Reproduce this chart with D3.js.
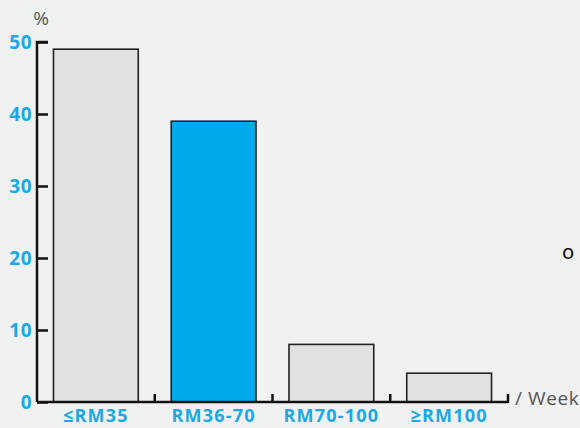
<!DOCTYPE html>
<html>
<head>
<meta charset="utf-8">
<script src="https://cdn.jsdelivr.net/npm/d3@7"></script>
<style>
  body { margin: 0; background: #f0f1f1; }
  svg { display: block; }
</style>
</head>
<body>
<script>
// data
var categories = ["≤RM35", "RM36-70", "RM70-100", "≥RM100"];
var values = [49, 39, 8, 4];
var highlight = "RM36-70";
var yTicks = [0, 10, 20, 30, 40, 50];

var svgWidth = 580, svgHeight = 428;
var margin = {top: 42, right: 72, bottom: 26, left: 37};
var width = svgWidth - margin.left - margin.right;
var height = svgHeight - margin.top - margin.bottom;

var svg = d3.select("body").append("svg")
  .attr("width", svgWidth)
  .attr("height", svgHeight)
  .style("font-family", "'Open Sans', sans-serif");

svg.append("rect").attr("width", svgWidth).attr("height", svgHeight).attr("fill", "#f0f1f1");

var chartGroup = svg.append("g")
  .attr("transform", `translate(${margin.left}, ${margin.top})`);

var x = d3.scaleBand().domain(categories).range([0, width]).paddingInner(0.28).paddingOuter(0.14);
var y = d3.scaleLinear().domain([0, 50]).range([height, 0]);

// bars
chartGroup.selectAll("rect.bar")
  .data(categories)
  .enter()
  .append("rect")
  .attr("class", "bar")
  .attr("x", function(d) { return x(d); })
  .attr("y", function(d, i) { return y(values[i]); })
  .attr("width", x.bandwidth())
  .attr("height", function(d, i) { return height - y(values[i]); })
  .attr("fill", function(d) { return d === highlight ? "#00a9ea" : "#e0e1e3"; })
  .attr("stroke", "#222")
  .attr("stroke-width", 1.6);

// y axis
var leftAxis = d3.axisRight(y).tickValues(yTicks).tickSize(11).tickFormat("");
var yAxis = chartGroup.append("g").call(leftAxis);
yAxis.select(".domain").attr("stroke", "#111").attr("stroke-width", 2.5).attr("d", `M0,${height}V0H11`);
yAxis.selectAll(".tick line").attr("stroke", "#111").attr("stroke-width", 2.5);

chartGroup.selectAll("text.ylab")
  .data(yTicks)
  .enter()
  .append("text")
  .attr("class", "ylab")
  .attr("x", -5)
  .attr("y", function(d) { return y(d); })
  .attr("dy", "0.36em")
  .attr("text-anchor", "end")
  .attr("fill", "#1ba8e8")
  .style("font-size", "19px")
  .style("font-weight", "bold")
  .style("letter-spacing", "0.5px")
  .text(function(d) { return d; });

// x axis with ticks at band boundaries
var step = x.step();
var bounds = categories.map(function(d) { return x(d) - x.paddingInner() * step / 2 + step; });
var xAxis = chartGroup.append("g").attr("transform", `translate(0, ${height})`);
xAxis.append("line")
  .attr("x1", 0).attr("x2", bounds[bounds.length - 1])
  .attr("stroke", "#111").attr("stroke-width", 2.5);
xAxis.selectAll("line.tk")
  .data(bounds)
  .enter()
  .append("line")
  .attr("class", "tk")
  .attr("x1", function(d) { return d; })
  .attr("x2", function(d) { return d; })
  .attr("y1", 1)
  .attr("y2", -8)
  .attr("stroke", "#111").attr("stroke-width", 2.5);

xAxis.selectAll("text.xlab")
  .data(categories)
  .enter()
  .append("text")
  .attr("class", "xlab")
  .attr("x", function(d) { return x(d) + x.bandwidth() / 2; })
  .attr("y", 20)
  .attr("text-anchor", "middle")
  .attr("fill", "#1ba8e8")
  .style("font-size", "18px")
  .style("font-weight", "bold")
  .style("letter-spacing", "1.2px")
  .text(function(d) { return d; });

// unit labels
svg.append("text")
  .attr("x", 41).attr("y", 25)
  .attr("text-anchor", "middle")
  .attr("fill", "#555")
  .style("font-size", "19px")
  .text("%");

svg.append("text")
  .attr("x", 515).attr("y", 405)
  .attr("fill", "#555")
  .style("font-size", "19px")
  .style("letter-spacing", "0.6px")
  .text("/ Week");

svg.append("text")
  .attr("x", 568).attr("y", 259)
  .attr("text-anchor", "middle")
  .attr("fill", "#111")
  .style("font-family", "'DejaVu Sans', sans-serif")
  .style("font-size", "20px")
  .text("o");
</script>
</body>
</html>
